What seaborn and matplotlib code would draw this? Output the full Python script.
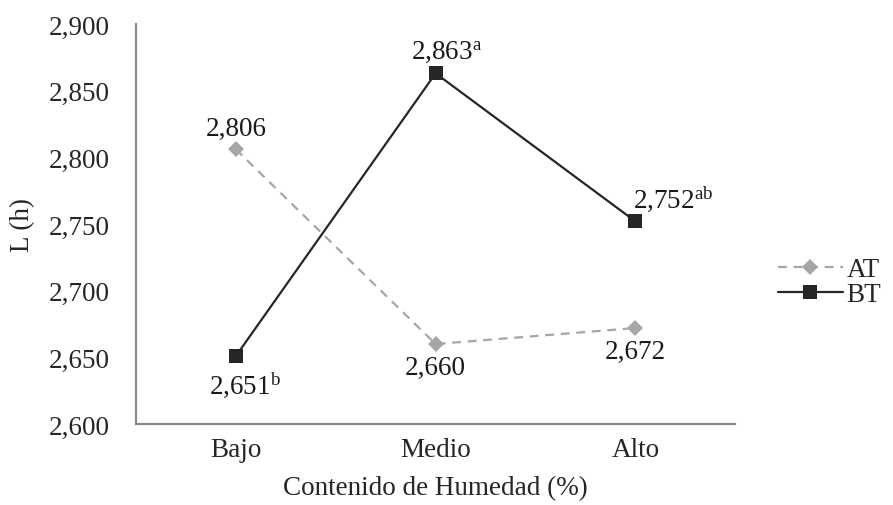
import numpy as np
import pandas as pd
import seaborn as sns
import matplotlib as mpl
import matplotlib.pyplot as plt

# Data
categories = ["Bajo", "Medio", "Alto"]
at_values = [2.806, 2.660, 2.672]
bt_values = [2.651, 2.863, 2.752]
at_labels = ["2,806", "2,660", "2,672"]
bt_labels = [r"2,651$^{\mathrm{b}}$", r"2,863$^{\mathrm{a}}$", r"2,752$^{\mathrm{ab}}$"]
y_ticks = [2.600, 2.650, 2.700, 2.750, 2.800, 2.850, 2.900]

# Settings
sns.set_theme(style="white")
plt.rcParams["font.family"] = ["Liberation Serif", "DejaVu Serif"]
plt.rcParams["mathtext.fontset"] = "custom"
plt.rcParams["mathtext.rm"] = "Liberation Serif"
plt.rcParams["mathtext.it"] = "Liberation Serif:italic"
plt.rcParams["mathtext.bf"] = "Liberation Serif:bold"

df = pd.DataFrame({
    "cat": categories * 2,
    "val": at_values + bt_values,
    "serie": ["AT"] * 3 + ["BT"] * 3,
})

fig = plt.figure(figsize=(8.93, 5.06), dpi=100)
ax = fig.add_axes([0.1523, 0.160, 0.671, 0.7906])

palette = {"AT": "#A6A6A6", "BT": "#262626"}
sns.lineplot(data=df, x="cat", y="val", hue="serie", style="serie",
             palette=palette, markers={"AT": "D", "BT": "s"},
             dashes={"AT": (4, 3), "BT": ""}, linewidth=1.6,
             markersize=10.5, markeredgewidth=0, ax=ax, sort=False)
# diamond slightly smaller
for line in ax.lines:
    if line.get_marker() == "D":
        line.set_markersize(8)

fs = 19.5
ax.set_xlim(-0.5, 2.5)
ax.set_ylim(2.600, 2.900)
ax.set_yticks(y_ticks)
ax.set_yticklabels([f"{v:.3f}".replace(".", ",") for v in y_ticks], fontsize=fs)
ax.set_xticks([0, 1, 2])
ax.set_xticklabels(categories, fontsize=fs)
ax.set_xticks([0.5, 1.5, 2.5], minor=True)
ax.tick_params(axis="x", which="major", length=0, pad=9)
ax.tick_params(axis="x", which="minor", length=5, width=1.4, color="#8a8a8a", direction="out")
ax.tick_params(axis="y", which="major", length=6, width=1.4, color="#8a8a8a", direction="out", pad=13)

for side in ["top", "right"]:
    ax.spines[side].set_visible(False)
for side in ["left", "bottom"]:
    ax.spines[side].set_color("#8a8a8a")
    ax.spines[side].set_linewidth(1.6)

ax.set_xlabel("Contenido de Humedad (%)", fontsize=fs, labelpad=10)
ax.set_ylabel("L (h)", fontsize=fs, labelpad=10)

# Data labels (offsets in points)
at_off = [(0, 15), (0, -17), (0, -17)]
for i, (v, lab) in enumerate(zip(at_values, at_labels)):
    ax.annotate(lab, (i, v), xytext=at_off[i], textcoords="offset points",
                ha="center", va="center", fontsize=fs, color="#1a1a1a")
bt_off = [(-19, -20), (-18, 16), (-2, 17)]
for i, (v, lab) in enumerate(zip(bt_values, bt_labels)):
    ax.annotate(lab, (i, v), xytext=bt_off[i], textcoords="offset points",
                ha="left", va="center", fontsize=fs, color="#1a1a1a")

leg = ax.legend(loc="center left", bbox_to_anchor=(1.03, 0.355), frameon=False,
                fontsize=fs, handlelength=2.4, handletextpad=0.15, labelspacing=0.0)

fig.savefig("out.png", dpi=100)
